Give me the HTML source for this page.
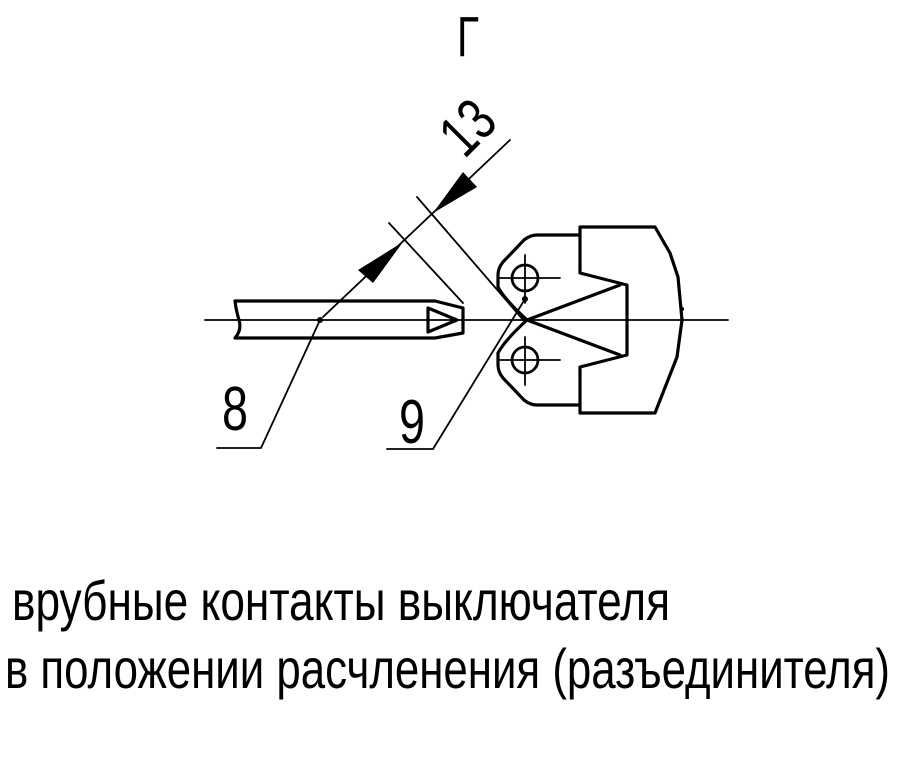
<!DOCTYPE html>
<html><head><meta charset="utf-8"><style>html,body{margin:0;padding:0;background:#fff}svg{display:block}</style></head>
<body>
<svg width="913" height="768" viewBox="0 0 913 768" xmlns="http://www.w3.org/2000/svg" font-family="Liberation Sans, DejaVu Sans, sans-serif">
<rect width="913" height="768" fill="#fff"/>
<text x="468" y="56" font-size="57" text-anchor="middle" textLength="22" lengthAdjust="spacingAndGlyphs">Г</text>
<g stroke="#000" fill="none" stroke-linecap="round" stroke-linejoin="round">
<line x1="205" y1="320" x2="728" y2="320" stroke-width="1.8"/>
<path d="M235 301 L435 301 L463 308 L463 333 L435 338 L235 338 Q242 330 239 320 Q236 310 235 301" stroke-width="3.2"/>
<path d="M428 308 L428 332 L457 320 Z" stroke-width="3.2"/>
<line x1="389" y1="223" x2="463" y2="303" stroke-width="1.8"/>
<line x1="417" y1="197" x2="525" y2="322" stroke-width="1.8"/>
<line x1="323" y1="317" x2="510" y2="140" stroke-width="1.8"/>
<polyline points="320,320 261,448 217,448" stroke-width="1.8"/>
<polyline points="525,299 433,449 387,449" stroke-width="1.8"/>
<path d="M580 235 L537 235 Q530 235 524 240 L503 262 Q498 268 498 275 L498 287 Q505 300 527 320 Q505 340 498 353 L498 365 Q498 372 503 378 L524 400 Q530 405 537 405 L580 405" stroke-width="3.2"/>
<path d="M580 227 L655 227 L670 253 L678 277 L682 320 L677 357 L655 413 L580 413 L580 367 L627 355 L627 285 L580 273 Z" stroke-width="3.2"/>
<path d="M620 285 L527 320 L620 355" stroke-width="3.2"/>
<circle cx="525" cy="278" r="13" stroke-width="2.8"/>
<circle cx="525" cy="360" r="13" stroke-width="2.8"/>
<line x1="525" y1="255" x2="525" y2="303" stroke-width="1.8"/>
<line x1="498" y1="278" x2="560" y2="278" stroke-width="1.8"/>
<line x1="525" y1="337" x2="525" y2="385" stroke-width="1.8"/>
<line x1="498" y1="360" x2="560" y2="360" stroke-width="1.8"/>
</g>
<g fill="#000">
<circle cx="320" cy="320" r="3"/>
<circle cx="525" cy="299" r="3"/>
<polygon points="403,242 358,270 373,283"/>
<polygon points="433,213 463,172 477,187"/>
<circle cx="682" cy="309" r="2"/>
</g>
<text x="235" y="430" font-size="62" text-anchor="middle" textLength="26" lengthAdjust="spacingAndGlyphs">8</text>
<text x="412" y="443" font-size="62" text-anchor="middle" textLength="26" lengthAdjust="spacingAndGlyphs">9</text>
<text transform="translate(482,142) rotate(-45)" font-size="60" text-anchor="middle" textLength="50" lengthAdjust="spacingAndGlyphs">13</text>
<text x="12" y="620" font-size="56" textLength="658" lengthAdjust="spacingAndGlyphs">врубные контакты выключателя</text>
<text x="5" y="688" font-size="56" textLength="885" lengthAdjust="spacingAndGlyphs">в положении расчленения (разъединителя)</text>
</svg>
</body></html>
